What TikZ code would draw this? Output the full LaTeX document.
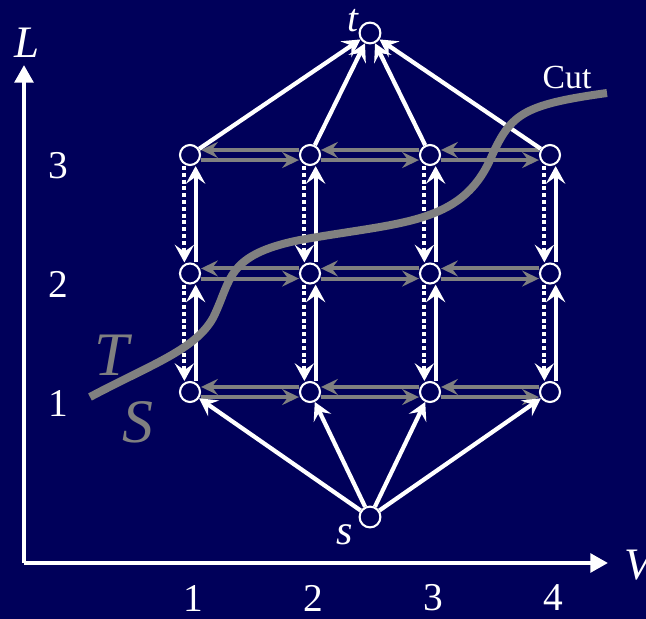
\documentclass[tikz,border=0pt]{standalone}
\usepackage{fontspec}
\setmainfont{Liberation Serif}
\usetikzlibrary{arrows.meta}
\definecolor{sfondo}{RGB}{0,0,90}
\definecolor{grigio}{RGB}{128,128,128}

\begin{document}
\begin{tikzpicture}[x=0.025cm, y=-0.025cm,
    vtx/.style={circle, draw=white, line width=1.5pt, fill=sfondo,
        minimum size=0.5cm, inner sep=0pt},
    su/.style={white, line width=3pt,
        -{Stealth[length=0.44cm, width=0.48cm, inset=0.17cm]}},
    giu/.style={white, line width=3pt, dash pattern=on 0.1cm off 0.07cm,
        -{Stealth[length=0.44cm, width=0.48cm, inset=0.17cm]}},
    orizz/.style={grigio, line width=2.8pt,
        -{Stealth[length=0.42cm, width=0.4cm, inset=0.15cm]}},
    assi/.style={white, line width=3pt,
        -{Triangle[length=0.44cm, width=0.46cm]}},
    etic/.style={text=white, inner sep=0pt, font=\fontsize{28}{32}\selectfont}]

    % Sfondo
    \useasboundingbox (0,0) rectangle (646,619);
    \fill[sfondo] (0,0) rectangle (646,619);

    % Assi
    \coordinate (O) at (24,563);
    \coordinate (Lfine) at (24,65);
    \coordinate (Vfine) at (608,563);
    \draw[assi] (O) -- (Lfine);
    \draw[assi] (O) -- (Vfine);
    \node[etic, font=\fontsize{32}{36}\selectfont\itshape] (L) at (27,43) {L};
    \node[etic, font=\fontsize{32}{36}\selectfont\itshape, anchor=west] (V) at (624,565) {V};

    % Etichette assi
    \foreach \i in {1,...,4}
        \node[etic] (x\i) at ({73+120*\i},598) {\i};
    \foreach \j in {1,2,3}
        \node[etic] (y\j) at (58,{522.5-119*\j}) {\j};

    % Nodi
    \foreach \i in {1,...,4}
        \foreach \j in {1,2,3}
            \node[vtx] (n\i\j) at ({70+120*\i},{510.5-118.5*\j}) {};
    \node[vtx, minimum size=0.52cm] (t) at (370,33) {};
    \node[vtx, minimum size=0.52cm] (s) at (370,517) {};
    \node[etic, font=\fontsize{28}{32}\selectfont\itshape] (tlab) at (353,21) {t};
    \node[etic, font=\fontsize{30}{34}\selectfont\itshape] (slab) at (345,535) {s};

    % Archi orizzontali
    \foreach \i/\k in {1/2,2/3,3/4}
        \foreach \j in {1,2,3} {
            \draw[orizz] ([yshift=3.6pt]n\k\j.west) -- ([yshift=3.6pt]n\i\j.east);
            \draw[orizz] ([yshift=-3.6pt]n\i\j.east) -- ([yshift=-3.6pt]n\k\j.west);
        }

    % Archi verticali
    \foreach \j/\l in {1/2,2/3}
        \foreach \i in {1,...,4} {
            \draw[su] ([xshift=4pt]n\i\j.north) -- ([xshift=4pt]n\i\l.south);
            \draw[giu] ([xshift=-4pt]n\i\l.south) -- ([xshift=-4pt]n\i\j.north);
        }

    % Sorgente e pozzo
    \foreach \i in {1,...,4} {
        \draw[su] (s) -- (n\i1);
        \draw[su] (n\i3) -- (t);
    }

    % Taglio
    \draw[grigio, line width=0.2cm]
        (90,397)
        .. controls (150,365) and (195,350) .. (213,318)
        .. controls (232,280) and (225,255) .. (300,240)
        .. controls (400,222) and (460,225) .. (490,160)
        .. controls (510,115) and (520,105) .. (607,93);
    \node[etic, font=\fontsize{24}{28}\selectfont] (cut) at (567,77) {Cut};
    \node[etic, text=grigio, font=\fontsize{44}{48}\selectfont\itshape] (T) at (112,355) {T};
    \node[etic, text=grigio, font=\fontsize{44}{48}\selectfont\itshape] (S) at (138,422) {S};

\end{tikzpicture}
\end{document}
